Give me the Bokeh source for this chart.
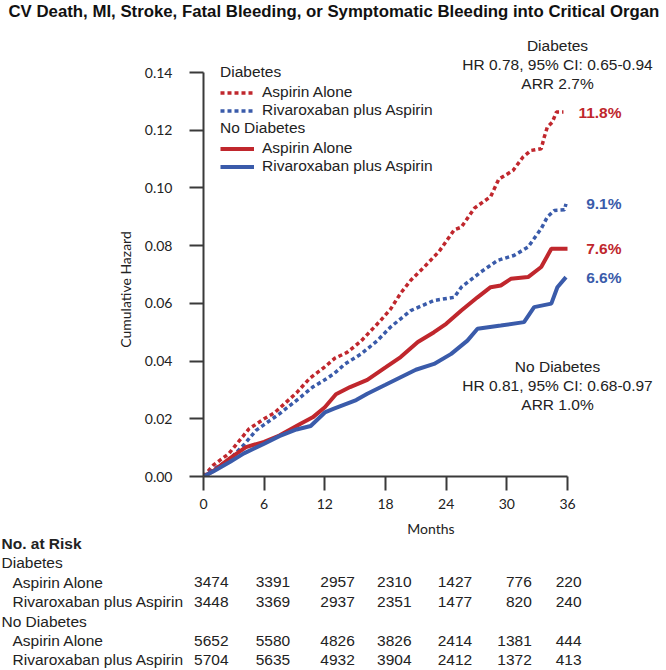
import math
from bokeh.plotting import figure
from bokeh.models import Range1d, Legend, LegendItem, FixedTicker, PrintfTickFormatter, ColumnDataSource
from bokeh.layouts import column
from bokeh.core.properties import value
from bokeh.embed import file_html
from bokeh.resources import INLINE

# ---------------- data ----------------
title_text = "CV Death, MI, Stroke, Fatal Bleeding, or Symptomatic Bleeding into Critical Organ"

# Diabetes - Aspirin Alone (dashed red)
m_dia_asa = [0, 1, 2.5, 4.5, 6, 7, 9.2, 10.5, 12, 13, 14.2, 15.6, 17.5, 18.5, 19.5, 20.5, 21.8,
             23.3, 24.8, 25.5, 26.8, 28.4, 29.2, 30.6, 31.6, 32.4, 33.4, 33.7, 34.0, 34.5, 34.9, 35.6]
h_dia_asa = [0, 0.004, 0.0079, 0.0165, 0.020, 0.022, 0.029, 0.034, 0.038, 0.041, 0.043, 0.047, 0.054,
             0.058, 0.0635, 0.068, 0.0725, 0.078, 0.0855, 0.0864, 0.093, 0.097, 0.103, 0.106, 0.1107,
             0.113, 0.1136, 0.1176, 0.121, 0.1228, 0.1263, 0.1263]

# Diabetes - Rivaroxaban plus Aspirin (dashed blue)
m_dia_riv = [0, 1, 2.6, 4, 5.2, 6, 7.5, 9.6, 10.8, 12, 12.9, 14, 15.6, 17.2, 18.5, 20.5, 22.8, 24.8,
             25.5, 27.4, 29.1, 30.7, 32.1, 33.4, 34.0, 34.7, 35.7, 35.85]
h_dia_riv = [0, 0.0025, 0.006, 0.011, 0.016, 0.018, 0.0217, 0.0275, 0.031, 0.0335, 0.0356, 0.039,
             0.0425, 0.0471, 0.0518, 0.0575, 0.061, 0.0621, 0.0656, 0.0708, 0.0749, 0.0766, 0.0795,
             0.0859, 0.0899, 0.0922, 0.0924, 0.0945]

# No Diabetes - Aspirin Alone (solid red)
m_nod_asa = [0, 1, 2.6, 4.2, 6, 7.5, 9.6, 10.8, 12, 13.1, 14.5, 16.2, 18, 19.5, 21.2, 22.8, 24, 25.5,
             27.1, 28.4, 29.4, 30.4, 32.1, 33.4, 34.4, 36]
h_nod_asa = [0, 0.002, 0.0063, 0.0102, 0.012, 0.0142, 0.0183, 0.0205, 0.024, 0.0285, 0.031, 0.0335,
             0.0378, 0.0414, 0.0466, 0.050, 0.0529, 0.0575, 0.0621, 0.0656, 0.0662, 0.0685, 0.0691,
             0.0726, 0.0789, 0.0789]

# No Diabetes - Rivaroxaban plus Aspirin (solid blue)
m_nod_riv = [0, 1, 2.6, 4, 5.9, 7.5, 9.2, 10.6, 12, 12.9, 15.1, 16.2, 18, 19.5, 21, 22.8, 24.5, 26.1,
             27.1, 29.4, 31.7, 32.7, 34.4, 35.0, 35.85]
h_nod_riv = [0, 0.0018, 0.005, 0.008, 0.0112, 0.014, 0.0163, 0.0175, 0.0222, 0.0235, 0.0265, 0.0287,
             0.0318, 0.0344, 0.037, 0.039, 0.0425, 0.0471, 0.0512, 0.0523, 0.0535, 0.0587, 0.0599,
             0.0656, 0.0691]

end_labels = ["11.8%", "9.1%", "7.6%", "6.6%"]

x_ticks = [0, 6, 12, 18, 24, 30, 36]
y_ticks = [0.00, 0.02, 0.04, 0.06, 0.08, 0.10, 0.12, 0.14]

dia_text = ["Diabetes", "HR 0.78, 95% CI: 0.65-0.94", "ARR 2.7%"]
nod_text = ["No Diabetes", "HR 0.81, 95% CI: 0.68-0.97", "ARR 1.0%"]

risk_title = "No. at Risk"
group_names = ["Diabetes", "No Diabetes"]
arm_names = ["Aspirin Alone", "Rivaroxaban plus Aspirin"]
risk_dia_asa = [3474, 3391, 2957, 2310, 1427, 776, 220]
risk_dia_riv = [3448, 3369, 2937, 2351, 1477, 820, 240]
risk_nod_asa = [5652, 5580, 4826, 3826, 2414, 1381, 444]
risk_nod_riv = [5704, 5635, 4932, 3904, 2412, 1372, 413]

# ---------------- styles / layout ----------------
RED = "#C0272D"
BLUE = "#3A5BAA"
INK = "#222222"
AXC = "#3a3a3a"
SANS = "Liberation Sans"
CAL = "Lato"

LEFT, TOP, BOTTOM, RIGHT = 203, 36, 194, 6
FRAME_W, FRAME_H = 455, 440
X_END = 45.0
PX = FRAME_W / X_END              # pixels per month
AXIS_H = 404.0                    # pixels from 0.00 to 0.14
PY = AXIS_H / 0.14                # pixels per hazard unit
Y_TOP = FRAME_H / PY


def yat(page_y):
    """hazard value that sits at a given pixel row of the canvas"""
    return (TOP + FRAME_H - page_y) / PY


def xat(page_x):
    return (page_x - LEFT) / PX


p = figure(frame_width=FRAME_W, frame_height=FRAME_H,
           x_range=Range1d(0, X_END), y_range=Range1d(0, Y_TOP),
           min_border_left=LEFT, min_border_right=RIGHT, min_border_top=TOP,
           min_border_bottom=BOTTOM,
           output_backend="svg", toolbar_location=None)
p.outline_line_color = None
p.grid.visible = False

# chart title
p.text(x=[xat(8)], y=[yat(10.5)], text=[title_text], text_align="left", text_baseline="middle",
       text_color="#111111", text_font=value(SANS), text_font_size="16.8px",
       text_font_style="bold", level="annotation")

xa = p.xaxis[0]
ya = p.yaxis[0]
for ax in (xa, ya):
    ax.axis_line_width = 2
    ax.axis_line_color = AXC
    ax.major_tick_line_width = 2
    ax.major_tick_line_color = AXC
    ax.major_tick_in = 0
    ax.major_tick_out = 14
    ax.minor_tick_in = 0
    ax.minor_tick_out = 0
    ax.major_label_text_font = CAL
    ax.major_label_text_font_size = "14px"
    ax.major_label_text_color = INK
    ax.axis_label_text_font = CAL
    ax.axis_label_text_font_size = "14px"
    ax.axis_label_text_font_style = "normal"
    ax.axis_label_text_color = INK

xa.ticker = FixedTicker(ticks=x_ticks)
xa.bounds = (x_ticks[0], x_ticks[-1])
xa.axis_label = "Months"
xa.major_label_standoff = 8
xa.axis_label_standoff = 8

ya.ticker = FixedTicker(ticks=y_ticks)
ya.formatter = PrintfTickFormatter(format="%.2f")
ya.bounds = (y_ticks[0], y_ticks[-1])
ya.major_label_standoff = 17

# y axis title, centred on the 0.00-0.14 span like the reference
p.text(x=[xat(125)], y=[yat(289)], text=["Cumulative Hazard"], angle=math.pi / 2,
       text_align="center", text_baseline="middle", text_color=INK,
       text_font=value(CAL), text_font_size="14px", level="annotation")

r_da = p.line(m_dia_asa, h_dia_asa, line_color=RED, line_width=3.5, line_dash="4 3")
r_dr = p.line(m_dia_riv, h_dia_riv, line_color=BLUE, line_width=3.5, line_dash="4 3")
r_na = p.line(m_nod_asa, h_nod_asa, line_color=RED, line_width=4)
r_nr = p.line(m_nod_riv, h_nod_riv, line_color=BLUE, line_width=4)

# end-of-curve labels
end_src = ColumnDataSource(dict(
    x=[x_ticks[-1]] * 4,
    y=[h_dia_asa[-1], h_dia_riv[-1], h_nod_asa[-1], h_nod_riv[-1]],
    text=end_labels,
    color=[RED, BLUE, RED, BLUE]))
p.text(x="x", y="y", text="text", source=end_src, text_color="color",
       text_align="right", text_baseline="middle", x_offset=54,
       text_font=value(SANS), text_font_size="15.5px", text_font_style="bold")

# HR annotations
ann_x = xat(557)
p.text(x=[ann_x] * 3, y=[yat(45), yat(64), yat(83)], text=dia_text,
       text_align="center", text_baseline="middle", text_color=INK,
       text_font=value(SANS), text_font_size="15.5px")
p.text(x=[ann_x] * 3, y=[yat(366), yat(385), yat(404)], text=nod_text,
       text_align="center", text_baseline="middle", text_color=INK,
       text_font=value(SANS), text_font_size="15.5px")


def make_legend(title, items, loc):
    lg = Legend(items=items, title=title, location=loc)
    lg.border_line_color = None
    lg.background_fill_alpha = 0
    lg.padding = 0
    lg.margin = 0
    lg.spacing = 0
    lg.label_height = 17
    lg.glyph_height = 17
    lg.glyph_width = 34
    lg.label_standoff = 8
    lg.label_text_font = SANS
    lg.label_text_font_size = "15.5px"
    lg.label_text_color = INK
    lg.title_text_font = SANS
    lg.title_text_font_size = "15.5px"
    lg.title_text_font_style = "normal"
    lg.title_text_color = INK
    lg.title_standoff = 2
    return lg


leg1 = make_legend(group_names[0], [LegendItem(label=arm_names[0], renderers=[r_da]),
                                    LegendItem(label=arm_names[1], renderers=[r_dr])], (17, 357))
leg2 = make_legend(group_names[1], [LegendItem(label=arm_names[0], renderers=[r_na]),
                                    LegendItem(label=arm_names[1], renderers=[r_nr])], (17, 301))
p.add_layout(leg1)
p.add_layout(leg2)

# ---------------- risk table (below the axis, same month scale) ----------------
row_y = [yat(543 + 19.4 * i) for i in range(7)]
x0 = xat(0)

p.text(x=[x0], y=[row_y[0]], text=[risk_title], text_align="left", text_baseline="middle",
       x_offset=1, text_color=INK, text_font=value(SANS), text_font_size="15.5px",
       text_font_style="bold", level="annotation")
p.text(x=[x0, x0], y=[row_y[1], row_y[4]], text=group_names, text_align="left",
       text_baseline="middle", x_offset=1, text_color=INK, text_font=value(SANS),
       text_font_size="15.5px", level="annotation")
p.text(x=[x0] * 4, y=[row_y[2], row_y[3], row_y[5], row_y[6]], text=arm_names * 2,
       text_align="left", text_baseline="middle", x_offset=12, text_color=INK,
       text_font=value(SANS), text_font_size="15.5px", level="annotation")

col_dx = [25, 26, 30, 26, 26, 25, 14]
xs, ys, ts, dxs = [], [], [], []
for row, vals in zip([2, 3, 5, 6], [risk_dia_asa, risk_dia_riv, risk_nod_asa, risk_nod_riv]):
    for j, v in enumerate(vals):
        xs.append(x_ticks[j]); ys.append(row_y[row]); ts.append(str(v)); dxs.append(col_dx[j])
num_src = ColumnDataSource(dict(x=xs, y=ys, text=ts, dx=dxs))
p.text(x="x", y="y", text="text", x_offset="dx", source=num_src, text_align="right",
       text_baseline="middle", text_color=INK, text_font=value(SANS), text_font_size="15.5px",
       level="annotation")

layout = column(p, spacing=0)
open("out.html", "w").write(file_html(layout, INLINE))
